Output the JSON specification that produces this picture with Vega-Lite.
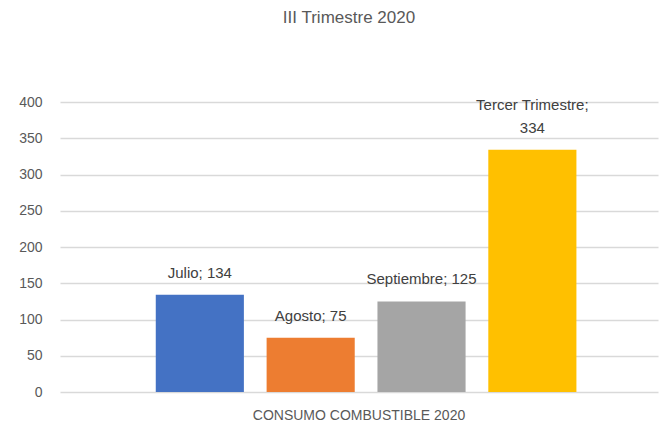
{
  "$schema": "https://vega.github.io/schema/vega-lite/v6.json",
  "autosize": "none",
  "width": 598,
  "height": 290,
  "padding": {"left": 60, "top": 102, "right": 6, "bottom": 36},
  "background": "white",
  "title": {"text": "III Trimestre 2020", "fontSize": 17, "font": "Liberation Sans", "fontWeight": "normal", "color": "#595959", "offset": 68, "dx": -10},
  "config": {"view": {"stroke": null}, "font": "Liberation Sans"},
  "data": {"values": [
    {"categoria": "CONSUMO COMBUSTIBLE 2020", "serie": "Julio", "valor": 134, "linea1": "", "linea2": "Julio; 134"},
    {"categoria": "CONSUMO COMBUSTIBLE 2020", "serie": "Agosto", "valor": 75, "linea1": "", "linea2": "Agosto; 75"},
    {"categoria": "CONSUMO COMBUSTIBLE 2020", "serie": "Septiembre", "valor": 125, "linea1": "", "linea2": "Septiembre; 125"},
    {"categoria": "CONSUMO COMBUSTIBLE 2020", "serie": "Tercer Trimestre", "valor": 334, "linea1": "Tercer Trimestre;", "linea2": "334"}
  ]},
  "encoding": {
    "x": {"field": "categoria", "type": "nominal", "scale": {"paddingInner": 0, "paddingOuter": 0},
      "axis": {"title": null, "labelAngle": 0, "ticks": false, "domain": false, "labelFontSize": 14, "labelColor": "#595959", "labelPadding": 16, "labelLimit": 0}},
    "xOffset": {"field": "serie", "type": "nominal", "sort": ["Julio", "Agosto", "Septiembre", "Tercer Trimestre"], "scale": {"paddingInner": 0.205, "paddingOuter": 0.8, "align": 0.54}},
    "y": {"field": "valor", "type": "quantitative", "scale": {"domain": [0, 400]},
      "axis": {"title": null, "values": [0,50,100,150,200,250,300,350,400], "labelOverlap": false, "ticks": false, "domain": false, "labelFontSize": 14, "labelColor": "#595959", "labelPadding": 18, "gridColor": "#d9d9d9", "gridWidth": 1.5}}
  },
  "layer": [
    {"mark": {"type": "bar"},
      "encoding": {"color": {"field": "serie", "type": "nominal", "sort": ["Julio", "Agosto", "Septiembre", "Tercer Trimestre"], "scale": {"domain": ["Julio", "Agosto", "Septiembre", "Tercer Trimestre"], "range": ["#4472C4", "#ED7D31", "#A5A5A5", "#FFC000"]}, "legend": null}}},
    {"mark": {"type": "text", "baseline": "bottom", "dy": -14, "fontSize": 15, "color": "#404040"},
      "encoding": {"text": {"field": "linea2"}}},
    {"mark": {"type": "text", "baseline": "bottom", "dy": -37, "fontSize": 15, "color": "#404040"},
      "encoding": {"text": {"field": "linea1"}}}
  ]
}
